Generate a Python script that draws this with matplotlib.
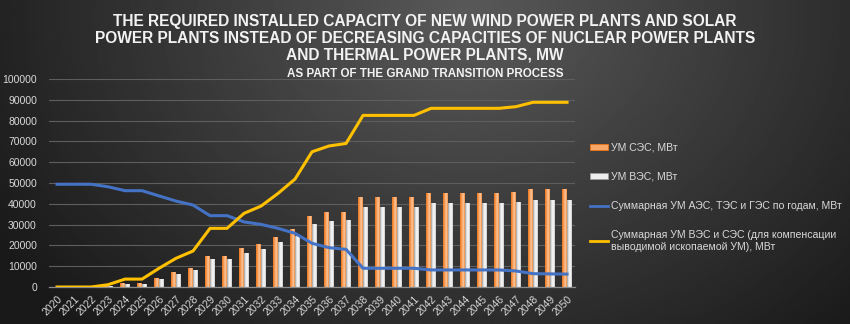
import numpy as np
import matplotlib
matplotlib.use('Agg')
import matplotlib.pyplot as plt
from matplotlib.colors import LinearSegmentedColormap
from matplotlib.patches import Patch
from matplotlib.lines import Line2D

years = [str(y) for y in range(2020, 2051)]

# installed capacity, MW
solar_mw = [0, 0, 0, 300, 1900, 1900, 4500, 7100, 9000, 14900, 14900, 18800, 20500, 24000,
            27700, 34100, 35900, 36200, 43500, 43500, 43500, 43500, 45300, 45300, 45300,
            45300, 45300, 45800, 47000, 47000, 47000]
wind_mw = [0, 0, 0, 300, 1600, 1600, 3900, 6100, 8000, 13300, 13300, 16500, 18300, 21500,
           24500, 30300, 31900, 32200, 38700, 38700, 38700, 38700, 40200, 40200, 40200,
           40200, 40200, 40900, 41700, 41700, 41700]
fossil_total = [49400, 49400, 49400, 48200, 46300, 46300, 43800, 41300, 39400, 34300, 34300,
                31300, 30100, 28200, 25800, 21000, 18900, 18100, 9000, 9000, 9000, 9000, 8200,
                8200, 8200, 8200, 8200, 7700, 6400, 6300, 6200]
renew_total = [0, 0, 0, 1100, 3800, 3800, 9000, 13800, 17300, 28200, 28200, 35400, 38900,
               45000, 51900, 65000, 67800, 69000, 82500, 82500, 82500, 82500, 85900, 85900,
               85900, 85900, 85900, 86700, 88800, 88800, 88800]

labels = ['УМ СЭС, МВт',
          'УМ ВЭС, МВт',
          'Суммарная УМ АЭС, ТЭС и ГЭС по годам, МВт',
          'Суммарная УМ ВЭС и СЭС (для компенсации\nвыводимой ископаемой УМ), МВт']

plt.rcParams['font.family'] = ['Liberation Sans', 'DejaVu Sans']
txt_col = '#D9D9D9'
blue = '#4472C4'
gold = '#FFC000'

fig = plt.figure(figsize=(8.5, 3.24), dpi=100)

# dark gradient backdrop
bg = fig.add_axes([0, 0, 1, 1], zorder=-10)
gx = np.linspace(0, 1, 400)
gy = np.linspace(0, 1, 160)
X, Y = np.meshgrid(gx, gy)
r = np.sqrt(((X - 0.55) / 0.62) ** 2 + ((Y - 0.05) / 1.3) ** 2)
shade = np.clip(0.35 - 0.24 * r, 0.1, 0.4)
bg.imshow(shade, cmap='gray', vmin=0, vmax=1, aspect='auto', extent=(0, 1, 1, 0))
bg.set_axis_off()

ax = fig.add_axes([0.0581, 0.1142, 0.618, 0.642])
ax.set_facecolor('none')

x = np.arange(len(years))
bw = 0.26
orange_cmap = LinearSegmentedColormap.from_list('org', ['#EE7518', '#F59A55', '#FAC8A2', '#F28C3A'])
white_cmap = LinearSegmentedColormap.from_list('wht', ['#9C9C9C', '#E6E6E6', '#FAFAFA', '#C8C8C8'])


def gradient_bars(bars, cmap):
    grad = np.linspace(0, 1, 32).reshape(1, -1)
    for b in bars:
        h = b.get_height()
        if h <= 0:
            continue
        x0, y0 = b.get_xy()
        im = ax.imshow(grad, cmap=cmap, aspect='auto', zorder=2,
                       extent=(x0, x0 + b.get_width(), y0, y0 + h))
        im.set_clip_path(b)


sb = ax.bar(x - 0.15, solar_mw, width=bw, facecolor='none', edgecolor='none', zorder=2)
wb = ax.bar(x + 0.15, wind_mw, width=bw, facecolor='none', edgecolor='none', zorder=2)
gradient_bars(sb, orange_cmap)
gradient_bars(wb, white_cmap)

ax.plot(x, fossil_total, color=blue, lw=2.2, zorder=4, solid_joinstyle='round')
ax.plot(x, renew_total, color=gold, lw=2.2, zorder=4, solid_joinstyle='round')

ax.set_xlim(-0.45, len(years) - 0.55)
ax.set_ylim(0, 100000)
ax.set_yticks(np.arange(0, 100001, 10000))
ax.set_xticks(x)
ax.set_xticklabels(years, rotation=45, ha='right', rotation_mode='anchor')
ax.tick_params(axis='both', length=0, colors=txt_col, labelsize=7.5)
ax.tick_params(axis='x', pad=5)
ax.tick_params(axis='y', pad=9)
ax.grid(axis='y', color='#5E5E5E', lw=0.8)
ax.set_axisbelow(True)
for side in ('top', 'right', 'left'):
    ax.spines[side].set_visible(False)
ax.spines['bottom'].set_color('#8C8C8C')
ax.spines['bottom'].set_linewidth(0.9)

handles = [Patch(facecolor='#F7A866', edgecolor='#EE7518', lw=0.6),
           Patch(facecolor='#EDEDED', edgecolor='#9C9C9C', lw=0.6),
           Line2D([], [], color=blue, lw=2),
           Line2D([], [], color=gold, lw=2)]
leg = fig.legend(handles, labels, loc='upper left', bbox_to_anchor=(0.683, 0.588),
                 frameon=False, fontsize=7.6, labelcolor=txt_col, handlelength=1.7,
                 handleheight=0.5, handletextpad=0.3, labelspacing=1.8)

fig.text(0.5, 0.956, 'THE REQUIRED INSTALLED CAPACITY OF NEW WIND POWER PLANTS AND SOLAR\n'
         'POWER PLANTS INSTEAD OF DECREASING CAPACITIES OF NUCLEAR POWER PLANTS\n'
         'AND THERMAL POWER PLANTS, MW',
         ha='center', va='top', color='#F2F2F2', fontsize=11.2, fontweight='bold',
         linespacing=1.13)
fig.text(0.5, 0.772, 'AS PART OF THE GRAND TRANSITION PROCESS', ha='center', va='center',
         color='#F2F2F2', fontsize=8.4, fontweight='bold')

fig.savefig('out.png', dpi=100)
